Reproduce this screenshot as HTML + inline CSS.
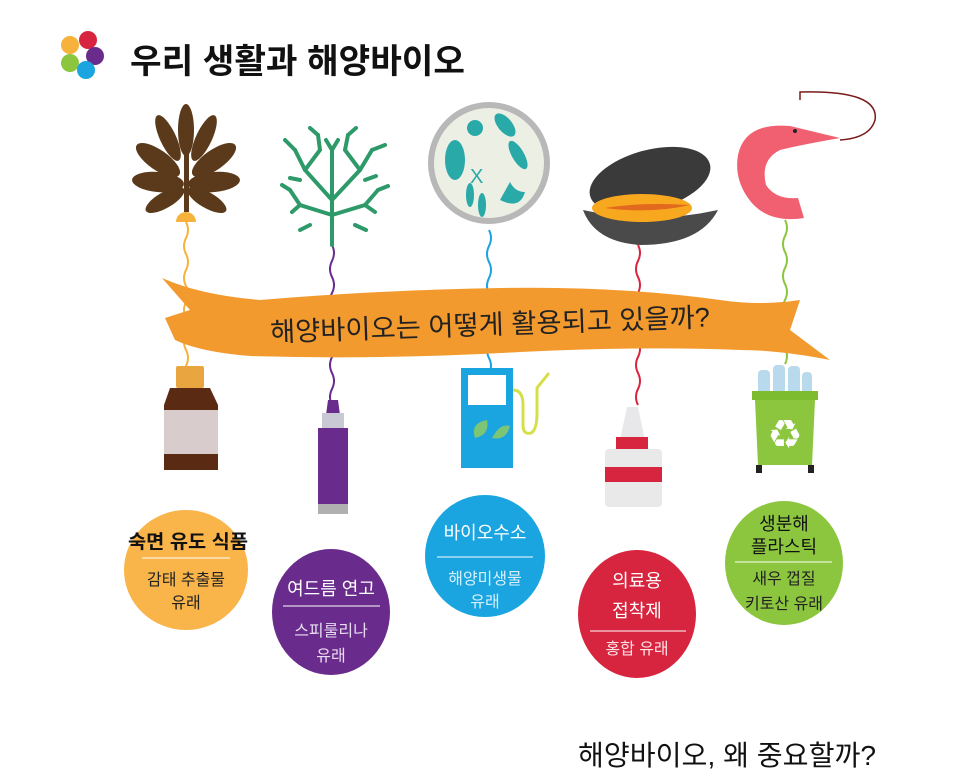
<!DOCTYPE html>
<html><head><meta charset="utf-8"><style>
html,body{margin:0;padding:0;background:#fff;}
svg{display:block;font-family:"Liberation Sans","Noto Sans CJK KR",sans-serif;}
</style></head><body>
<svg width="966" height="784" viewBox="0 0 966 784" xmlns="http://www.w3.org/2000/svg">
<!-- logo dots -->
<circle cx="70" cy="45" r="9" fill="#f7b23b"/>
<circle cx="88" cy="40" r="9" fill="#d7253f"/>
<circle cx="95" cy="56" r="9" fill="#6a2c8c"/>
<circle cx="70" cy="63" r="9" fill="#8cc63f"/>
<circle cx="86" cy="70" r="9" fill="#1aa5e0"/>
<text x="130" y="73" font-size="34" font-weight="bold" fill="#111" textLength="335" lengthAdjust="spacingAndGlyphs">우리 생활과 해양바이오</text>

<!-- strings -->
<g fill="none" stroke-width="2">
<path d="M186 222 q4 8 0 16 q-4 8 0 16 q4 8 0 16 q-4 8 0 16 q4 8 0 16 q-4 8 0 16 q4 8 0 16 q-4 8 0 16 q4 8 0 16 q-4 8 0 16" stroke="#f7b23b"/>
<path d="M332 245 q4 8 0 16 q-4 8 0 16 q4 8 0 16 q-4 8 0 16 q4 8 0 16 q-4 8 0 16 q4 8 0 16 q-4 8 0 16 q4 8 0 16 q-4 8 0 16 q4 8 0 16" stroke="#6a2c8c"/>
<path d="M489 230 q4 8 0 16 q-4 8 0 16 q4 8 0 16 q-4 8 0 16 q4 8 0 16 q-4 8 0 16 q4 8 0 16 q-4 8 0 16 q4 8 0 16" stroke="#1aa5e0"/>
<path d="M638 245 q4 8 0 16 q-4 8 0 16 q4 8 0 16 q-4 8 0 16 q4 8 0 16 q-4 8 0 16 q4 8 0 16 q-4 8 0 16 q4 8 0 16 q-4 8 0 16" stroke="#d7253f"/>
<path d="M785 220 q4 8 0 16 q-4 8 0 16 q4 8 0 16 q-4 8 0 16 q4 8 0 16 q-4 8 0 16 q4 8 0 16 q-4 8 0 16 q4 8 0 16" stroke="#8cc63f"/>
</g>

<!-- brown seaweed -->
<g fill="#5a3a1a">
<rect x="184" y="115" width="5" height="97"/>
<ellipse cx="186" cy="130" rx="8" ry="26"/>
<ellipse cx="168" cy="138" rx="8" ry="25" transform="rotate(-25 168 138)"/>
<ellipse cx="204" cy="138" rx="8" ry="25" transform="rotate(25 204 138)"/>
<ellipse cx="158" cy="160" rx="10" ry="26" transform="rotate(-55 158 160)"/>
<ellipse cx="214" cy="160" rx="10" ry="26" transform="rotate(55 214 160)"/>
<ellipse cx="158" cy="182" rx="10" ry="26" transform="rotate(-85 158 182)"/>
<ellipse cx="214" cy="182" rx="10" ry="26" transform="rotate(85 214 182)"/>
<ellipse cx="165" cy="200" rx="8" ry="22" transform="rotate(-120 165 200)"/>
<ellipse cx="207" cy="200" rx="8" ry="22" transform="rotate(120 207 200)"/>
</g>
<path d="M176 222 a10 10 0 0 1 20 0z" fill="#f7b23b"/>

<!-- green coral -->
<g stroke="#2e9a6a" stroke-width="4" fill="none" stroke-linecap="round">
<path d="M332 245 L332 200 L305 170 L295 150"/>
<path d="M332 200 L360 170 L372 150"/>
<path d="M332 215 L300 205 L290 190"/>
<path d="M332 215 L365 205 L378 190"/>
<path d="M305 170 L320 150 L318 135"/>
<path d="M360 170 L345 150 L348 135"/>
<path d="M332 200 L332 150"/>
<path d="M295 150 L285 140 M300 205 L292 212 M365 205 L375 212 M372 150 L385 145 M318 135 L310 128 M348 135 L356 128 M332 150 L326 140 M332 150 L338 140 M290 190 L282 185 M378 190 L388 186 M300 180 L290 178 M365 180 L376 176 M310 225 L300 230 M355 225 L366 230"/>
</g>

<!-- petri dish -->
<circle cx="489" cy="163" r="58" fill="#ecefe4" stroke="#b8b8b8" stroke-width="6"/>
<g fill="#2aa9a9">
<ellipse cx="455" cy="160" rx="10" ry="20"/>
<ellipse cx="518" cy="155" rx="6" ry="16" transform="rotate(-30 518 155)"/>
<ellipse cx="505" cy="125" rx="7" ry="14" transform="rotate(-40 505 125)"/>
<circle cx="475" cy="128" r="8"/>
<path d="M500 200 q20 10 25 -8 q-10 0 -15 -10z"/>
<ellipse cx="470" cy="195" rx="4" ry="12"/>
<ellipse cx="482" cy="205" rx="4" ry="12"/>
</g>
<text x="470" y="183" font-size="20" fill="#2aa9a9">X</text>

<!-- mussel -->
<ellipse cx="650" cy="180" rx="62" ry="30" fill="#3a3a3a" transform="rotate(-15 650 180)"/>
<path d="M583 210 Q650 225 718 210 Q700 245 640 245 Q595 242 583 210z" fill="#4a4a4a"/>
<ellipse cx="642" cy="208" rx="50" ry="14" fill="#f7a81e"/>
<path d="M605 208 Q640 202 690 205 Q650 214 605 208z" fill="#e26a1e"/>

<!-- shrimp -->
<path d="M800 100 L800 92 Q880 90 875 120 Q870 138 840 140" fill="none" stroke="#7a1a1a" stroke-width="1.5"/>
<path d="M738 155 Q745 122 790 126 L840 138 Q800 145 780 150 Q760 160 766 185 Q776 200 798 198 L804 218 Q766 224 748 198 Q734 178 738 155z" fill="#f06070"/>
<circle cx="795" cy="131" r="2" fill="#222"/>

<!-- banner -->
<path d="M162 278 Q200 295 260 300 Q380 290 500 288 Q620 286 720 300 Q760 306 800 300 L790 330 L830 360 Q780 350 740 350 Q640 346 520 352 Q380 360 250 356 Q200 352 175 340 L165 318 L190 310z" fill="#f39a2e"/>
<text x="490" y="334" font-size="27" fill="#222" text-anchor="middle" textLength="440" lengthAdjust="spacingAndGlyphs" transform="rotate(-2 490 325)">해양바이오는 어떻게 활용되고 있을까?</text>

<!-- bottle -->
<rect x="176" y="366" width="28" height="22" rx="2" fill="#e9a640"/>
<path d="M170 388 L210 388 L218 405 L218 470 L164 470 L164 405z" fill="#5a2a12"/>
<rect x="164" y="410" width="54" height="44" fill="#d9cccc"/>

<!-- tube -->
<path d="M328 400 L338 400 L340 415 L326 415z" fill="#6a2c8c"/>
<rect x="322" y="413" width="22" height="15" fill="#c9c9d6"/>
<rect x="318" y="428" width="30" height="76" fill="#6a2c8c"/>
<rect x="318" y="504" width="30" height="10" fill="#b0b0b0"/>

<!-- hydrogen pump -->
<rect x="461" y="368" width="52" height="100" fill="#1aa5e0"/>
<rect x="468" y="375" width="38" height="30" fill="#fff"/>
<path d="M475 438 q-5 -15 12 -18 q3 15 -12 18z M492 438 q8 -15 18 -12 q-4 15 -18 12z" fill="#7cc576"/>
<path d="M513 390 q10 0 10 15 v20 q0 10 8 8 q6 -3 6 -20 v-25 l12 -15" fill="none" stroke="#d5e048" stroke-width="3"/>

<!-- glue -->
<path d="M627 407 L638 407 L645 440 L620 440z" fill="#e8e8ea"/>
<rect x="616" y="437" width="32" height="12" fill="#d7253f"/>
<rect x="605" y="449" width="57" height="58" rx="4" fill="#e9e9ea"/>
<rect x="605" y="467" width="57" height="15" fill="#d7253f"/>

<!-- bin -->
<g fill="#b9d9ec">
<rect x="758" y="370" width="12" height="24" rx="4"/><rect x="773" y="365" width="12" height="29" rx="4"/><rect x="788" y="366" width="12" height="28" rx="4"/><rect x="802" y="372" width="10" height="22" rx="4"/>
</g>
<rect x="752" y="391" width="66" height="9" fill="#7dbb2f"/>
<path d="M755 400 L815 400 L812 465 L758 465z" fill="#8cc63f"/>
<rect x="756" y="465" width="6" height="8" fill="#222"/><rect x="808" y="465" width="6" height="8" fill="#222"/>
<text x="785" y="445" font-size="30" fill="#fff" text-anchor="middle">♻</text>

<!-- circles -->
<ellipse cx="186" cy="570" rx="62" ry="60" fill="#f9b44a"/>
<ellipse cx="331" cy="612" rx="59" ry="63" fill="#6a2c8c"/>
<ellipse cx="485" cy="556" rx="60" ry="61" fill="#1aa5e0"/>
<ellipse cx="637" cy="614" rx="59" ry="64" fill="#d7253f"/>
<ellipse cx="784" cy="563" rx="59" ry="62" fill="#8cc63f"/>

<g text-anchor="middle" font-size="16">
<text x="188" y="548" font-size="19" font-weight="bold" fill="#111" textLength="120" lengthAdjust="spacingAndGlyphs">숙면 유도 식품</text>
<line x1="142" y1="558" x2="230" y2="558" stroke="#fff" stroke-width="1"/>
<text x="186" y="585" fill="#222">감태 추출물</text>
<text x="186" y="608" fill="#222">유래</text>

<text x="331" y="595" font-size="18" fill="#fff">여드름 연고</text>
<line x1="283" y1="606" x2="380" y2="606" stroke="#fff"/>
<text x="331" y="636" fill="#e8dcf0">스피룰리나</text>
<text x="331" y="661" fill="#e8dcf0">유래</text>

<text x="485" y="539" font-size="18" fill="#fff">바이오수소</text>
<line x1="437" y1="557" x2="533" y2="557" stroke="#fff"/>
<text x="485" y="584" fill="#d6f0fb">해양미생물</text>
<text x="485" y="607" fill="#d6f0fb">유래</text>

<text x="637" y="587" font-size="18" fill="#fff">의료용</text>
<text x="637" y="617" font-size="18" fill="#fff">접착제</text>
<line x1="590" y1="631" x2="686" y2="631" stroke="#fff"/>
<text x="637" y="654" fill="#fde0e4">홍합 유래</text>

<text x="784" y="530" font-size="18" fill="#111">생분해</text>
<text x="784" y="553" font-size="18" fill="#111">플라스틱</text>
<line x1="735" y1="562" x2="832" y2="562" stroke="#fff"/>
<text x="784" y="584" fill="#222">새우 껍질</text>
<text x="784" y="609" fill="#222">키토산 유래</text>
</g>

<text x="578" y="765" font-size="28" fill="#111" textLength="298" lengthAdjust="spacingAndGlyphs">해양바이오, 왜 중요할까?</text>
</svg>
</body></html>
